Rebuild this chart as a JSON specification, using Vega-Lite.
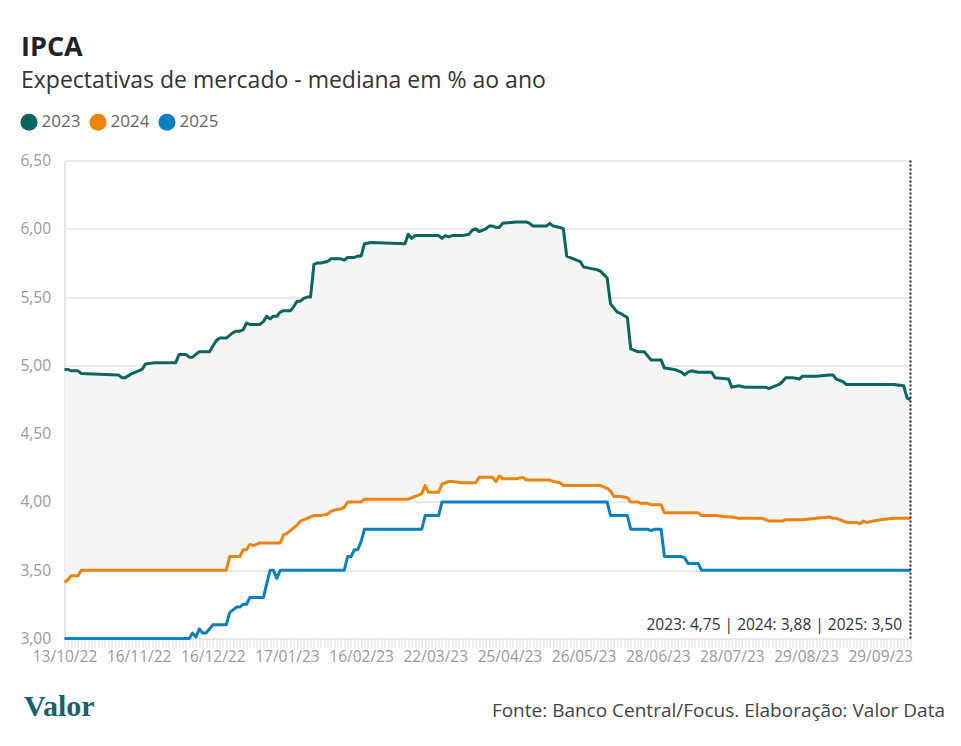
{
  "$schema": "https://vega.github.io/schema/vega-lite/v6.json",
  "width": 846,
  "height": 478,
  "autosize": "none",
  "padding": {"left": 64.5, "top": 160.5, "right": 50.5, "bottom": 107},
  "background": "#ffffff",
  "config": {"font": "Open Sans", "view": {"stroke": null}},
  "title": {
    "text": "IPCA",
    "subtitle": "Expectativas de mercado - mediana em % ao ano",
    "anchor": "start",
    "frame": "group",
    "dx": -43.5,
    "offset": 19,
    "font": "Open Sans",
    "fontSize": 27,
    "fontWeight": 700,
    "color": "#222222",
    "subtitleFont": "Open Sans",
    "subtitleFontSize": 23,
    "subtitleColor": "#333333",
    "subtitlePadding": 8
  },
  "data": {
    "values": [
      {"i": 0, "2023": 4.97, "2024": 3.41, "2025": 3.00},
      {"i": 1, "2023": 4.97, "2024": 3.43, "2025": 3.00},
      {"i": 2, "2023": 4.96, "2024": 3.46, "2025": 3.00},
      {"i": 4, "2023": 4.96, "2024": 3.46, "2025": 3.00},
      {"i": 5, "2023": 4.94, "2024": 3.50, "2025": 3.00},
      {"i": 16, "2023": 4.93, "2024": 3.50, "2025": 3.00},
      {"i": 17, "2023": 4.91, "2024": 3.50, "2025": 3.00},
      {"i": 18, "2023": 4.91, "2024": 3.50, "2025": 3.00},
      {"i": 20, "2023": 4.94, "2024": 3.50, "2025": 3.00},
      {"i": 22, "2023": 4.96, "2024": 3.50, "2025": 3.00},
      {"i": 23, "2023": 4.97, "2024": 3.50, "2025": 3.00},
      {"i": 24, "2023": 5.01, "2024": 3.50, "2025": 3.00},
      {"i": 27, "2023": 5.02, "2024": 3.50, "2025": 3.00},
      {"i": 33, "2023": 5.02, "2024": 3.50, "2025": 3.00},
      {"i": 34, "2023": 5.08, "2024": 3.50, "2025": 3.00},
      {"i": 36, "2023": 5.08, "2024": 3.50, "2025": 3.00},
      {"i": 37, "2023": 5.06, "2024": 3.50, "2025": 3.00},
      {"i": 38, "2023": 5.06, "2024": 3.50, "2025": 3.04},
      {"i": 39, "2023": 5.08, "2024": 3.50, "2025": 3.01},
      {"i": 40, "2023": 5.10, "2024": 3.50, "2025": 3.07},
      {"i": 41, "2023": 5.10, "2024": 3.50, "2025": 3.04},
      {"i": 42, "2023": 5.10, "2024": 3.50, "2025": 3.04},
      {"i": 43, "2023": 5.10, "2024": 3.50, "2025": 3.07},
      {"i": 44, "2023": 5.14, "2024": 3.50, "2025": 3.10},
      {"i": 45, "2023": 5.18, "2024": 3.50, "2025": 3.10},
      {"i": 46, "2023": 5.20, "2024": 3.50, "2025": 3.10},
      {"i": 48, "2023": 5.20, "2024": 3.50, "2025": 3.10},
      {"i": 49, "2023": 5.22, "2024": 3.60, "2025": 3.19},
      {"i": 50, "2023": 5.24, "2024": 3.60, "2025": 3.21},
      {"i": 51, "2023": 5.25, "2024": 3.60, "2025": 3.23},
      {"i": 52, "2023": 5.25, "2024": 3.60, "2025": 3.23},
      {"i": 53, "2023": 5.26, "2024": 3.65, "2025": 3.25},
      {"i": 54, "2023": 5.31, "2024": 3.65, "2025": 3.25},
      {"i": 55, "2023": 5.30, "2024": 3.69, "2025": 3.30},
      {"i": 56, "2023": 5.30, "2024": 3.68, "2025": 3.30},
      {"i": 58, "2023": 5.30, "2024": 3.70, "2025": 3.30},
      {"i": 59, "2023": 5.32, "2024": 3.70, "2025": 3.30},
      {"i": 60, "2023": 5.36, "2024": 3.70, "2025": 3.40},
      {"i": 61, "2023": 5.34, "2024": 3.70, "2025": 3.50},
      {"i": 62, "2023": 5.36, "2024": 3.70, "2025": 3.50},
      {"i": 63, "2023": 5.36, "2024": 3.70, "2025": 3.44},
      {"i": 64, "2023": 5.39, "2024": 3.70, "2025": 3.50},
      {"i": 65, "2023": 5.40, "2024": 3.76, "2025": 3.50},
      {"i": 66, "2023": 5.40, "2024": 3.77, "2025": 3.50},
      {"i": 67, "2023": 5.40, "2024": 3.79, "2025": 3.50},
      {"i": 68, "2023": 5.43, "2024": 3.81, "2025": 3.50},
      {"i": 69, "2023": 5.47, "2024": 3.83, "2025": 3.50},
      {"i": 70, "2023": 5.47, "2024": 3.86, "2025": 3.50},
      {"i": 71, "2023": 5.49, "2024": 3.87, "2025": 3.50},
      {"i": 72, "2023": 5.50, "2024": 3.88, "2025": 3.50},
      {"i": 73, "2023": 5.50, "2024": 3.89, "2025": 3.50},
      {"i": 74, "2023": 5.74, "2024": 3.90, "2025": 3.50},
      {"i": 75, "2023": 5.75, "2024": 3.90, "2025": 3.50},
      {"i": 76, "2023": 5.75, "2024": 3.90, "2025": 3.50},
      {"i": 78, "2023": 5.76, "2024": 3.91, "2025": 3.50},
      {"i": 79, "2023": 5.78, "2024": 3.93, "2025": 3.50},
      {"i": 80, "2023": 5.78, "2024": 3.94, "2025": 3.50},
      {"i": 82, "2023": 5.78, "2024": 3.95, "2025": 3.50},
      {"i": 83, "2023": 5.77, "2024": 3.96, "2025": 3.50},
      {"i": 84, "2023": 5.79, "2024": 4.00, "2025": 3.60},
      {"i": 85, "2023": 5.79, "2024": 4.00, "2025": 3.60},
      {"i": 86, "2023": 5.79, "2024": 4.00, "2025": 3.65},
      {"i": 87, "2023": 5.80, "2024": 4.00, "2025": 3.65},
      {"i": 88, "2023": 5.80, "2024": 4.00, "2025": 3.71},
      {"i": 89, "2023": 5.89, "2024": 4.02, "2025": 3.80},
      {"i": 91, "2023": 5.90, "2024": 4.02, "2025": 3.80},
      {"i": 101, "2023": 5.89, "2024": 4.02, "2025": 3.80},
      {"i": 102, "2023": 5.96, "2024": 4.02, "2025": 3.80},
      {"i": 103, "2023": 5.93, "2024": 4.03, "2025": 3.80},
      {"i": 104, "2023": 5.95, "2024": 4.04, "2025": 3.80},
      {"i": 105, "2023": 5.95, "2024": 4.05, "2025": 3.80},
      {"i": 106, "2023": 5.95, "2024": 4.06, "2025": 3.80},
      {"i": 107, "2023": 5.95, "2024": 4.12, "2025": 3.90},
      {"i": 108, "2023": 5.95, "2024": 4.07, "2025": 3.90},
      {"i": 111, "2023": 5.95, "2024": 4.07, "2025": 3.90},
      {"i": 112, "2023": 5.93, "2024": 4.13, "2025": 4.00},
      {"i": 113, "2023": 5.95, "2024": 4.14, "2025": 4.00},
      {"i": 114, "2023": 5.94, "2024": 4.15, "2025": 4.00},
      {"i": 115, "2023": 5.95, "2024": 4.15, "2025": 4.00},
      {"i": 118, "2023": 5.95, "2024": 4.14, "2025": 4.00},
      {"i": 120, "2023": 5.96, "2024": 4.14, "2025": 4.00},
      {"i": 121, "2023": 5.99, "2024": 4.14, "2025": 4.00},
      {"i": 122, "2023": 6.00, "2024": 4.14, "2025": 4.00},
      {"i": 123, "2023": 5.98, "2024": 4.18, "2025": 4.00},
      {"i": 125, "2023": 6.00, "2024": 4.18, "2025": 4.00},
      {"i": 126, "2023": 6.02, "2024": 4.18, "2025": 4.00},
      {"i": 127, "2023": 6.02, "2024": 4.18, "2025": 4.00},
      {"i": 128, "2023": 6.01, "2024": 4.15, "2025": 4.00},
      {"i": 129, "2023": 6.01, "2024": 4.19, "2025": 4.00},
      {"i": 130, "2023": 6.04, "2024": 4.17, "2025": 4.00},
      {"i": 134, "2023": 6.05, "2024": 4.17, "2025": 4.00},
      {"i": 136, "2023": 6.05, "2024": 4.18, "2025": 4.00},
      {"i": 137, "2023": 6.05, "2024": 4.16, "2025": 4.00},
      {"i": 138, "2023": 6.04, "2024": 4.16, "2025": 4.00},
      {"i": 139, "2023": 6.02, "2024": 4.16, "2025": 4.00},
      {"i": 143, "2023": 6.02, "2024": 4.16, "2025": 4.00},
      {"i": 144, "2023": 6.04, "2024": 4.16, "2025": 4.00},
      {"i": 145, "2023": 6.02, "2024": 4.15, "2025": 4.00},
      {"i": 147, "2023": 6.01, "2024": 4.14, "2025": 4.00},
      {"i": 148, "2023": 6.00, "2024": 4.12, "2025": 4.00},
      {"i": 149, "2023": 5.80, "2024": 4.12, "2025": 4.00},
      {"i": 151, "2023": 5.78, "2024": 4.12, "2025": 4.00},
      {"i": 153, "2023": 5.76, "2024": 4.12, "2025": 4.00},
      {"i": 154, "2023": 5.72, "2024": 4.12, "2025": 4.00},
      {"i": 156, "2023": 5.71, "2024": 4.12, "2025": 4.00},
      {"i": 158, "2023": 5.70, "2024": 4.12, "2025": 4.00},
      {"i": 159, "2023": 5.69, "2024": 4.12, "2025": 4.00},
      {"i": 161, "2023": 5.64, "2024": 4.10, "2025": 4.00},
      {"i": 162, "2023": 5.45, "2024": 4.08, "2025": 3.90},
      {"i": 163, "2023": 5.42, "2024": 4.04, "2025": 3.90},
      {"i": 164, "2023": 5.39, "2024": 4.04, "2025": 3.90},
      {"i": 165, "2023": 5.38, "2024": 4.04, "2025": 3.90},
      {"i": 167, "2023": 5.35, "2024": 4.03, "2025": 3.90},
      {"i": 168, "2023": 5.12, "2024": 4.00, "2025": 3.80},
      {"i": 170, "2023": 5.10, "2024": 4.00, "2025": 3.80},
      {"i": 171, "2023": 5.10, "2024": 3.99, "2025": 3.80},
      {"i": 172, "2023": 5.10, "2024": 3.99, "2025": 3.80},
      {"i": 173, "2023": 5.07, "2024": 3.99, "2025": 3.80},
      {"i": 174, "2023": 5.04, "2024": 3.98, "2025": 3.79},
      {"i": 175, "2023": 5.04, "2024": 3.98, "2025": 3.80},
      {"i": 177, "2023": 5.04, "2024": 3.98, "2025": 3.80},
      {"i": 178, "2023": 4.98, "2024": 3.92, "2025": 3.60},
      {"i": 181, "2023": 4.97, "2024": 3.92, "2025": 3.60},
      {"i": 183, "2023": 4.95, "2024": 3.92, "2025": 3.60},
      {"i": 184, "2023": 4.93, "2024": 3.92, "2025": 3.59},
      {"i": 185, "2023": 4.95, "2024": 3.92, "2025": 3.55},
      {"i": 186, "2023": 4.96, "2024": 3.92, "2025": 3.55},
      {"i": 188, "2023": 4.95, "2024": 3.92, "2025": 3.55},
      {"i": 189, "2023": 4.95, "2024": 3.90, "2025": 3.50},
      {"i": 192, "2023": 4.95, "2024": 3.90, "2025": 3.50},
      {"i": 193, "2023": 4.91, "2024": 3.90, "2025": 3.50},
      {"i": 197, "2023": 4.90, "2024": 3.89, "2025": 3.50},
      {"i": 198, "2023": 4.84, "2024": 3.89, "2025": 3.50},
      {"i": 200, "2023": 4.85, "2024": 3.88, "2025": 3.50},
      {"i": 202, "2023": 4.84, "2024": 3.88, "2025": 3.50},
      {"i": 207, "2023": 4.84, "2024": 3.88, "2025": 3.50},
      {"i": 208, "2023": 4.84, "2024": 3.87, "2025": 3.50},
      {"i": 209, "2023": 4.83, "2024": 3.86, "2025": 3.50},
      {"i": 210, "2023": 4.84, "2024": 3.86, "2025": 3.50},
      {"i": 212, "2023": 4.86, "2024": 3.86, "2025": 3.50},
      {"i": 213, "2023": 4.88, "2024": 3.86, "2025": 3.50},
      {"i": 214, "2023": 4.91, "2024": 3.87, "2025": 3.50},
      {"i": 216, "2023": 4.91, "2024": 3.87, "2025": 3.50},
      {"i": 218, "2023": 4.90, "2024": 3.87, "2025": 3.50},
      {"i": 219, "2023": 4.92, "2024": 3.87, "2025": 3.50},
      {"i": 223, "2023": 4.92, "2024": 3.88, "2025": 3.50},
      {"i": 227, "2023": 4.93, "2024": 3.89, "2025": 3.50},
      {"i": 228, "2023": 4.93, "2024": 3.88, "2025": 3.50},
      {"i": 229, "2023": 4.90, "2024": 3.88, "2025": 3.50},
      {"i": 230, "2023": 4.89, "2024": 3.87, "2025": 3.50},
      {"i": 231, "2023": 4.88, "2024": 3.86, "2025": 3.50},
      {"i": 232, "2023": 4.86, "2024": 3.85, "2025": 3.50},
      {"i": 235, "2023": 4.86, "2024": 3.85, "2025": 3.50},
      {"i": 236, "2023": 4.86, "2024": 3.84, "2025": 3.50},
      {"i": 237, "2023": 4.86, "2024": 3.86, "2025": 3.50},
      {"i": 238, "2023": 4.86, "2024": 3.85, "2025": 3.50},
      {"i": 240, "2023": 4.86, "2024": 3.86, "2025": 3.50},
      {"i": 242, "2023": 4.86, "2024": 3.87, "2025": 3.50},
      {"i": 246, "2023": 4.86, "2024": 3.88, "2025": 3.50},
      {"i": 249, "2023": 4.85, "2024": 3.88, "2025": 3.50},
      {"i": 250, "2023": 4.76, "2024": 3.88, "2025": 3.50},
      {"i": 251, "2023": 4.75, "2024": 3.88, "2025": 3.50}
    ]
  },
  "layer": [
    {
      "mark": {"type": "area", "color": "#f5f5f5"},
      "encoding": {
        "x": {
          "field": "i", "type": "quantitative",
          "scale": {"domain": [0, 251], "nice": false, "zero": false},
          "axis": {
            "orient": "bottom",
            "tickCount": 251, "labels": false, "ticks": true, "tickSize": 9,
            "tickColor": "#dddddd", "tickWidth": 1, "domain": false, "grid": false,
            "title": "Valor", "titleFont": "Liberation Serif", "titleFontSize": 30,
            "titleFontWeight": "bold", "titleColor": "#17606d", "titleAlign": "left",
            "titleX": -41, "titleY": 76.5, "titleBaseline": "alphabetic"
          }
        },
        "y": {
          "field": "2023", "type": "quantitative", "title": null,
          "scale": {"domain": [3, 6.5], "nice": false, "zero": false},
          "axis": {
            "values": [3, 3.5, 4, 4.5, 5, 5.5, 6, 6.5],
            "labelExpr": "replace(format(datum.value, '.2f'), '.', ',')",
            "grid": true, "gridColor": "#e9e9e9", "gridWidth": 2,
            "domain": true, "domainColor": "#e6e6e6", "domainWidth": 2,
            "ticks": false, "labelPadding": 14, "labelFontSize": 15.5,
            "labelColor": "#9a9a9a", "labelFont": "Open Sans", "title": null
          }
        },
        "y2": {"field": "2024"}
      }
    },
    {
      "transform": [{"fold": ["2023", "2024", "2025"], "as": ["serie", "valor"]}],
      "mark": {"type": "line", "strokeWidth": 3, "strokeJoin": "round"},
      "encoding": {
        "x": {
          "field": "i", "type": "quantitative",
          "scale": {"domain": [0, 251], "nice": false, "zero": false},
          "axis": {
            "orient": "bottom",
            "values": [0, 22, 44, 66, 88, 110, 132, 154, 176, 198, 220, 242],
            "labelExpr": "['13/10/22','16/11/22','16/12/22','17/01/23','16/02/23','22/03/23','25/04/23','26/05/23','28/06/23','28/07/23','29/08/23','29/09/23'][round(datum.value / 22)]",
            "ticks": false, "domain": false, "grid": false, "labelPadding": 11,
            "labelFontSize": 15.5, "labelColor": "#9a9a9a", "labelFont": "Open Sans",
            "labelFlush": false, "labelOverlap": false,
            "title": "Fonte: Banco Central/Focus. Elaboração: Valor Data",
            "titleFont": "Open Sans", "titleFontSize": 19, "titleFontWeight": "normal",
            "titleColor": "#444444", "titleAlign": "right", "titleX": 880, "titleY": 77.5,
            "titleBaseline": "alphabetic"
          }
        },
        "y": {
          "field": "valor", "type": "quantitative", "title": null,
          "scale": {"domain": [3, 6.5], "nice": false, "zero": false}
        },
        "color": {
          "field": "serie", "type": "nominal",
          "scale": {"domain": ["2023", "2024", "2025"], "range": ["#0a655e", "#ef8310", "#0a7fbf"]},
          "legend": {
            "title": null, "orient": "none", "legendX": -44.5, "legendY": -47.5,
            "direction": "horizontal", "symbolType": "circle", "symbolSize": 290,
            "labelFontSize": 17, "labelColor": "#666666", "labelFont": "Open Sans",
            "labelOffset": 3.5, "columnPadding": 8, "symbolStrokeWidth": 0,
            "encode": {"symbols": {"update": {"fill": {"scale": "color", "field": "value"}, "opacity": {"value": 1}}}}
          }
        }
      }
    },
    {
      "data": {"values": [{"i": 251}]},
      "mark": {"type": "rule", "strokeDash": [2, 2], "color": "#222222", "strokeWidth": 2},
      "encoding": {
        "x": {"field": "i", "type": "quantitative", "scale": {"domain": [0, 251], "nice": false, "zero": false}, "axis": null}
      }
    },
    {
      "data": {"values": [{"i": 251, "v": 3, "rotulo": "2023: 4,75 | 2024: 3,88 | 2025: 3,50"}]},
      "mark": {"type": "text", "align": "right", "baseline": "alphabetic", "dx": -8.5, "dy": -8.5, "fontSize": 15.5, "color": "#333333", "font": "Open Sans"},
      "encoding": {
        "x": {"field": "i", "type": "quantitative", "scale": {"domain": [0, 251], "nice": false, "zero": false}, "axis": null},
        "y": {"field": "v", "type": "quantitative", "title": null, "scale": {"domain": [3, 6.5], "nice": false, "zero": false}},
        "text": {"field": "rotulo"}
      }
    }
  ],
  "resolve": {"axis": {"x": "independent"}}
}
